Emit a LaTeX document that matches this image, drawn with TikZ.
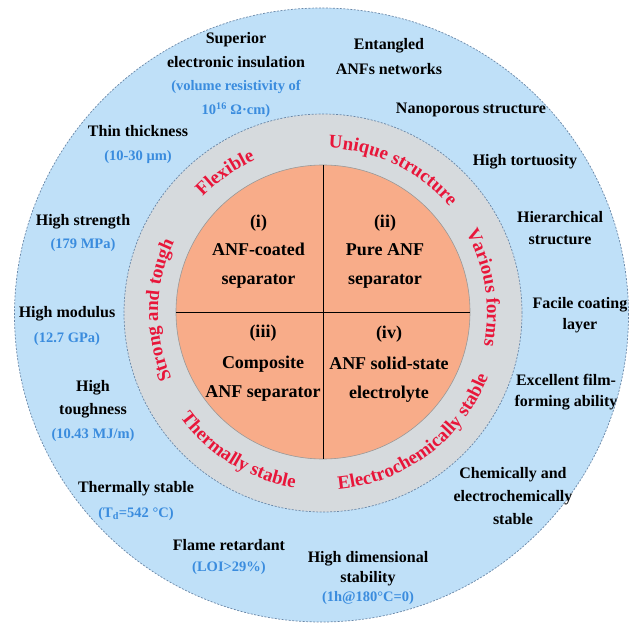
\documentclass[tikz,border=0pt]{standalone}
\usepackage{fontspec}
\setmainfont{Liberation Serif}
\usetikzlibrary{decorations.text}
\definecolor{outerblue}{RGB}{191,224,248}
\definecolor{ringgray}{RGB}{214,218,221}
\definecolor{coreorange}{RGB}{248,172,137}
\definecolor{tred}{RGB}{232,22,58}
\definecolor{tblue}{RGB}{58,140,222}
\definecolor{dashc}{RGB}{105,135,168}
\newcommand\bv[1]{{\color{tblue}\fontsize{14.5}{14.5}\selectfont #1}}
\newcommand\ringtext[4]{%
  \path[decorate, decoration={text along path, text align=center,
    text={|\bfseries\fontsize{19}{19}\selectfont\color{tred}|#4}}]
    (#2:#1) arc[start angle=#2, end angle=#3, radius=#1];}
\tikzset{
  feat/.style={align=center, inner sep=0pt, text=black,
    font=\bfseries\fontsize{16}{#1}\selectfont},
  feat/.default=23.5,
  corelbl/.style={align=center, inner sep=0pt, text=black,
    font=\bfseries\fontsize{18}{28.5}\selectfont},
  dashring/.style={draw=dashc, line width=0.7pt, dash pattern=on 2pt off 1.5pt}
}
\begin{document}
\begin{tikzpicture}[x=1pt,y=1pt]
\useasboundingbox (-323,-315) rectangle (306,313);
% circles
\fill[white] (-323,-315) rectangle (306,313);
\path[fill=outerblue, dashring] (-1.5,-2) circle[radius=307];
\path[fill=ringgray, dashring] (0,0) circle[radius=199];
\path[fill=coreorange, draw=gray!80, line width=0.6pt] (0,1) circle[radius=147];
\draw[black, line width=0.8pt] (0,148) -- (0,-146);
\draw[black, line width=0.8pt] (-147,1) -- (147,1);
% core labels
\node[corelbl] (c1) at (-64.5,61.5) {(i)\\ANF-coated\\separator};
\node[corelbl] (c2) at (62,61.5) {(ii)\\Pure ANF\\separator};
\node[corelbl] (c3) at (-60,-50) {(iii)\\[3pt]Composite\\ANF separator};
\node[corelbl] (c4) at (66,-51) {(iv)\\[3pt]ANF solid-state\\electrolyte};
% ring texts
\ringtext{165}{114}{14}{Unique structure}
\ringtext{167}{165}{85}{Flexible}
\ringtext{165}{229}{129}{Strong and tough}
\ringtext{164}{59}{-41}{Various forms}
\ringtext{177}{-113}{7}{Electrochemically stable}
\ringtext{177}{-171.5}{-71.5}{Thermally stable}
% outer features
\node[feat] (f1) at (-87,238) {Superior\\electronic insulation\\\bv{(volume resistivity of}\\\bv{10\textsuperscript{16} Ω·cm)}};
\node[feat=24.5] (f2) at (66,256.5) {Entangled\\ANFs networks};
\node[feat] (f3) at (148,203) {Nanoporous structure};
\node[feat] (f4) at (-185,168.5) {Thin thickness\\\bv{(10-30 μm)}};
\node[feat] (f5) at (202,151) {High tortuosity};
\node[feat] (f6) at (-240,80) {High strength\\\bv{(179 MPa)}};
\node[feat=22.5] (f7) at (237,85) {Hierarchical\\structure};
\node[feat=25] (f8) at (-256,-12.5) {High modulus\\\bv{(12.7 GPa)}};
\node[feat=21.5] (f9) at (257,-2) {Facile coating\\layer};
\node[feat] (f10) at (-230,-97.5) {High\\toughness\\\bv{(10.43 MJ/m)}};
\node[feat=21.5] (f11) at (243,-79) {Excellent film-\\forming ability};
\node[feat=25] (f12) at (-187,-187.5) {Thermally stable\\\bv{(T\textsubscript{d}=542 °C)}};
\node[feat=23] (f13) at (190,-183) {Chemically and\\electrochemically\\stable};
\node[feat=20.5] (f14) at (-94,-244) {Flame retardant\\\bv{(LOI>29\%)}};
\node[feat=19.5] (f15) at (45,-265) {High dimensional\\stability\\\bv{(1h@180°C=0)}};
\end{tikzpicture}
\end{document}
